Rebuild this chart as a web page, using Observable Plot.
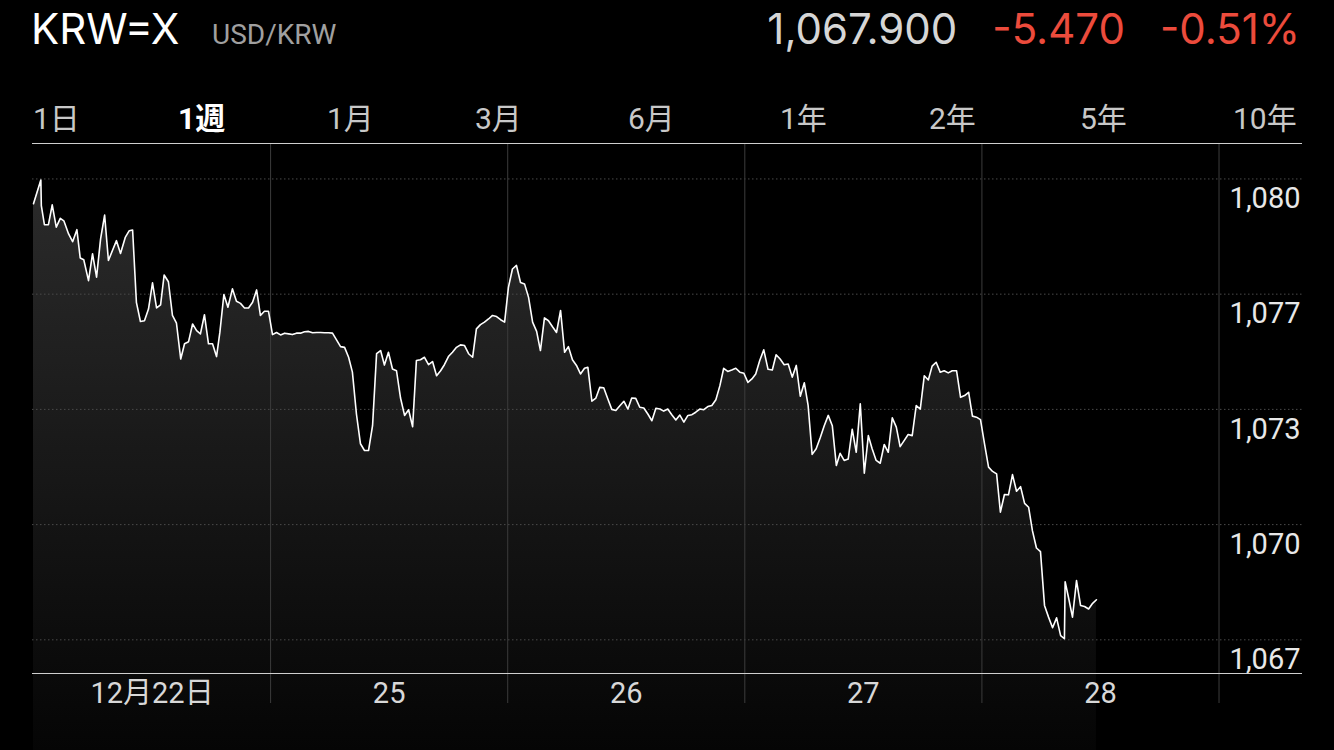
<!DOCTYPE html>
<html>
<head>
<meta charset="utf-8">
<script src="https://cdn.jsdelivr.net/npm/d3@7"></script>
<script src="https://cdn.jsdelivr.net/npm/@observablehq/plot@0.6"></script>
<style>
  html, body { margin: 0; padding: 0; background: #000; }
  body { width: 1334px; height: 750px; overflow: hidden; font-family: Roboto, "Noto Sans CJK JP", sans-serif; }
  #head { position: relative; height: 140px; }
  #head div { position: absolute; white-space: nowrap; line-height: 1; }
  #sym { left: 31px; top: 8px; font-size: 42px; color: #fff; font-family: Inter, Roboto, sans-serif; }
  #pair { left: 212px; top: 21px; font-size: 28px; color: #a0a0a0; }
  #quote { right: 34px; top: 8px; font-size: 42px; display: flex; gap: 35px; font-family: Inter, Roboto, sans-serif; }
  #quote .px { color: #d6d6d6; }
  #quote .chg { color: #ec4b3c; }
  #tabs { left: 0; top: 104px; font-size: 30px; color: #c8c8c8; width: 1334px; height: 36px; }
  #tabs span { position: absolute; white-space: nowrap; }
  #tabs .on { color: #fff; font-weight: 700; }
  #chart svg { display: block; }
</style>
</head>
<body>
<div id="head">
  <div id="sym"></div>
  <div id="pair"></div>
  <div id="quote"></div>
  <div id="tabs"></div>
</div>
<div id="chart"></div>
<script>
// ---- header texts ----
const symbol = "KRW=X";
const pairName = "USD/KRW";
const lastPrice = "1,067.900";
const change = "-5.470";
const changePct = "-0.51%";
const rangeTabs = ["1日", "1週", "1月", "3月", "6月", "1年", "2年", "5年", "10年"];
const activeTab = "1週";

// ---- axis ----
const dayStarts = [1, 2, 3, 4, 5];               // boundaries (trading days since 12/22)
const dayCenters = [0.5, 1.5, 2.5, 3.5, 4.5];
const dayLabels = ["12月22日", "25", "26", "27", "28"];
const yTicks = [1080, 1076.75, 1073.5, 1070.25, 1067];
const yTickLabels = ["1,080", "1,077", "1,073", "1,070", "1,067"];

// ---- series (time in trading days since 12/22 open, USD/KRW) ----
const times = [
  0, 0.031, 0.033, 0.046, 0.063, 0.079, 0.096, 0.113, 0.128, 0.148,
  0.165, 0.183, 0.197, 0.212, 0.232, 0.249, 0.266, 0.283, 0.300, 0.316,
  0.333, 0.350, 0.367, 0.387, 0.404, 0.418, 0.434, 0.451, 0.468, 0.485,
  0.502, 0.519, 0.536, 0.551, 0.569, 0.586, 0.603, 0.621, 0.637, 0.654,
  0.671, 0.688, 0.704, 0.721, 0.738, 0.755, 0.772, 0.786, 0.803, 0.820,
  0.839, 0.856, 0.873, 0.890, 0.907, 0.924, 0.941, 0.957, 0.974, 0.991,
  1.008, 1.025, 1.042, 1.059, 1.076, 1.092, 1.109, 1.126, 1.143, 1.160,
  1.177, 1.194, 1.211, 1.227, 1.244, 1.261, 1.278, 1.295, 1.312, 1.329,
  1.345, 1.362, 1.379, 1.396, 1.413, 1.430, 1.447, 1.464, 1.480, 1.497,
  1.514, 1.531, 1.548, 1.565, 1.582, 1.599, 1.615, 1.632, 1.649, 1.666,
  1.683, 1.700, 1.717, 1.733, 1.750, 1.767, 1.784, 1.801, 1.818, 1.835,
  1.852, 1.868, 1.885, 1.902, 1.919, 1.936, 1.953, 1.970, 1.987, 2.003,
  2.020, 2.037, 2.054, 2.071, 2.088, 2.105, 2.122, 2.138, 2.155, 2.172,
  2.189, 2.206, 2.223, 2.240, 2.256, 2.273, 2.290, 2.307, 2.324, 2.338,
  2.355, 2.372, 2.388, 2.405, 2.422, 2.439, 2.456, 2.473, 2.490, 2.507,
  2.523, 2.540, 2.557, 2.574, 2.591, 2.608, 2.625, 2.642, 2.658, 2.675,
  2.692, 2.709, 2.726, 2.743, 2.760, 2.777, 2.793, 2.810, 2.827, 2.844,
  2.861, 2.878, 2.895, 2.911, 2.928, 2.945, 2.962, 2.979, 2.996, 3.013,
  3.030, 3.046, 3.063, 3.080, 3.098, 3.116, 3.132, 3.149, 3.166, 3.183,
  3.200, 3.217, 3.234, 3.251, 3.267, 3.284, 3.301, 3.318, 3.335, 3.352,
  3.369, 3.386, 3.402, 3.419, 3.436, 3.453, 3.470, 3.487, 3.504, 3.521,
  3.537, 3.554, 3.571, 3.588, 3.605, 3.622, 3.639, 3.655, 3.672, 3.689,
  3.706, 3.723, 3.740, 3.757, 3.774, 3.790, 3.807, 3.824, 3.841, 3.858,
  3.875, 3.893, 3.910, 3.927, 3.944, 3.960, 3.977, 3.994, 4.011, 4.028,
  4.045, 4.062, 4.078, 4.095, 4.112, 4.129, 4.146, 4.163, 4.180, 4.197,
  4.213, 4.230, 4.247, 4.264, 4.281, 4.298, 4.315, 4.332, 4.348, 4.351,
  4.365, 4.382, 4.399, 4.416, 4.433, 4.450, 4.467, 4.483
];
const rates = [
  1079.30, 1079.97, 1079.25, 1078.71, 1078.71, 1079.27, 1078.64, 1078.89, 1078.82, 1078.45,
  1078.23, 1078.57, 1077.77, 1077.72, 1077.13, 1077.89, 1077.23, 1078.31, 1078.98, 1077.70,
  1077.98, 1078.26, 1077.90, 1078.35, 1078.54, 1078.56, 1076.52, 1075.98, 1076.00, 1076.33,
  1077.07, 1076.36, 1076.45, 1077.29, 1077.10, 1076.15, 1075.93, 1074.92, 1075.35, 1075.41,
  1075.91, 1075.72, 1075.63, 1076.17, 1075.35, 1075.35, 1074.99, 1075.67, 1076.74, 1076.38,
  1076.90, 1076.55, 1076.49, 1076.36, 1076.36, 1076.52, 1076.87, 1076.15, 1076.27, 1076.27,
  1075.61, 1075.67, 1075.60, 1075.65, 1075.63, 1075.61, 1075.65, 1075.65, 1075.69, 1075.70,
  1075.66, 1075.67, 1075.67, 1075.66, 1075.66, 1075.65, 1075.46, 1075.27, 1075.25, 1074.97,
  1074.55, 1073.37, 1072.53, 1072.34, 1072.34, 1073.04, 1075.07, 1075.16, 1074.75, 1075.11,
  1074.64, 1074.59, 1073.82, 1073.33, 1073.49, 1073.01, 1074.88, 1074.90, 1074.97, 1074.76,
  1074.85, 1074.45, 1074.59, 1074.76, 1074.99, 1075.11, 1075.25, 1075.32, 1075.30, 1075.07,
  1074.97, 1075.77, 1075.89, 1075.96, 1076.05, 1076.15, 1076.12, 1076.03, 1075.96, 1076.94,
  1077.46, 1077.56, 1077.08, 1077.04, 1076.66, 1075.96, 1075.70, 1075.16, 1076.08, 1076.00,
  1075.83, 1075.67, 1076.29, 1075.11, 1075.27, 1074.90, 1074.74, 1074.50, 1074.66, 1074.69,
  1073.73, 1073.82, 1074.12, 1074.11, 1073.80, 1073.50, 1073.47, 1073.60, 1073.73, 1073.51,
  1073.82, 1073.81, 1073.56, 1073.54, 1073.37, 1073.18, 1073.53, 1073.51, 1073.45, 1073.51,
  1073.35, 1073.20, 1073.34, 1073.14, 1073.33, 1073.35, 1073.42, 1073.51, 1073.49, 1073.58,
  1073.61, 1073.77, 1074.17, 1074.66, 1074.57, 1074.61, 1074.66, 1074.55, 1074.52, 1074.26,
  1074.36, 1074.50, 1074.88, 1075.18, 1074.63, 1074.61, 1075.04, 1074.92, 1074.76, 1074.78,
  1074.41, 1074.74, 1073.87, 1074.25, 1073.61, 1072.23, 1072.39, 1072.70, 1073.04, 1073.33,
  1073.04, 1071.92, 1072.26, 1072.06, 1072.10, 1072.94, 1072.29, 1073.66, 1071.70, 1072.76,
  1072.39, 1072.06, 1071.98, 1072.51, 1072.29, 1073.26, 1073.00, 1072.45, 1072.62, 1072.79,
  1072.76, 1073.61, 1073.51, 1074.45, 1074.33, 1074.72, 1074.83, 1074.55, 1074.59, 1074.53,
  1074.59, 1074.59, 1073.84, 1073.89, 1073.98, 1073.31, 1073.28, 1073.21, 1072.53, 1071.87,
  1071.75, 1071.68, 1070.60, 1071.10, 1071.09, 1071.66, 1071.19, 1071.32, 1070.85, 1070.74,
  1070.08, 1069.59, 1069.49, 1067.97, 1067.64, 1067.34, 1067.62, 1067.12, 1067.03, 1068.64,
  1068.20, 1067.64, 1068.67, 1067.97, 1067.94, 1067.87, 1068.03, 1068.13
];

// ---- header ----
document.getElementById("sym").textContent = symbol;
document.getElementById("pair").textContent = pairName;
const q = document.getElementById("quote");
[[lastPrice, "px"], [change, "chg"], [changePct, "chg"]].forEach(([t, c]) => {
  const s = document.createElement("span"); s.className = c; s.textContent = t; q.appendChild(s);
});
// tab layout (left edge of each tab label, in page px)
const tabLeft = [33, 178, 327, 475, 628, 780, 929, 1080, 1233];
const tabs = document.getElementById("tabs");
rangeTabs.forEach((t, i) => {
  const s = document.createElement("span"); s.textContent = t;
  s.style.left = tabLeft[i] + "px";
  if (t === activeTab) s.className = "on";
  tabs.appendChild(s);
});

// ---- chart ----
const data = times.map((t, i) => ({t, v: rates[i]}));
const W = 1334, H = 610, mt = 3, mb = 77, ml = 32, mr = 32;
const yDomain = [1066.05, 1081.0];
const xDomain = [-0.0042, 5.3521];
const pxPerUnit = (H - mt - mb) / (yDomain[1] - yDomain[0]);
const yFloor = yDomain[0] - mb / pxPerUnit;   // fill continues to the page bottom

const svg = Plot.plot({
  width: W, height: H,
  marginTop: mt, marginBottom: mb, marginLeft: ml, marginRight: mr,
  style: {background: "#000", fontFamily: "Roboto, 'Noto Sans CJK JP', sans-serif", overflow: "visible"},
  x: {domain: xDomain, axis: null},
  y: {domain: yDomain, axis: null},
  marks: [
    Plot.areaY(data, {x: "t", y1: yFloor, y2: "v", fill: "url(#krwFill)", clip: false}),
    Plot.ruleY(yTicks, {stroke: "#4a4a4a", strokeWidth: 1, strokeDasharray: "1.5,2.5"}),
    Plot.ruleX(dayStarts, {stroke: "#3c3c3c", strokeWidth: 1, insetBottom: -30}),
    Plot.ruleY([yDomain[1]], {stroke: "#cfcfcf", strokeWidth: 1}),
    Plot.ruleY([yDomain[0]], {stroke: "#cfcfcf", strokeWidth: 1}),
    Plot.line(data, {x: "t", y: "v", stroke: "#ffffff", strokeWidth: 1.6, strokeLinejoin: "round"}),
    Plot.text(yTicks, {x: xDomain[1], y: d => d, text: (d, i) => yTickLabels[i], textAnchor: "end", dx: -2, dy: 20, fill: "#e8e8e8", fontSize: 29}),
    Plot.text(dayCenters, {x: d => d, y: yDomain[0], text: (d, i) => dayLabels[i], dy: 20, fill: "#d8d8d8", fontSize: 29})
  ]
});

const defs = d3.select(svg).insert("defs", ":first-child");
const grad = defs.append("linearGradient").attr("id", "krwFill")
  .attr("x1", 0).attr("y1", 0).attr("x2", 0).attr("y2", 1);
grad.append("stop").attr("offset", 0).attr("stop-color", "#2b2b2b");
grad.append("stop").attr("offset", 1).attr("stop-color", "#050505");

document.getElementById("chart").appendChild(svg);
</script>
</body>
</html>
